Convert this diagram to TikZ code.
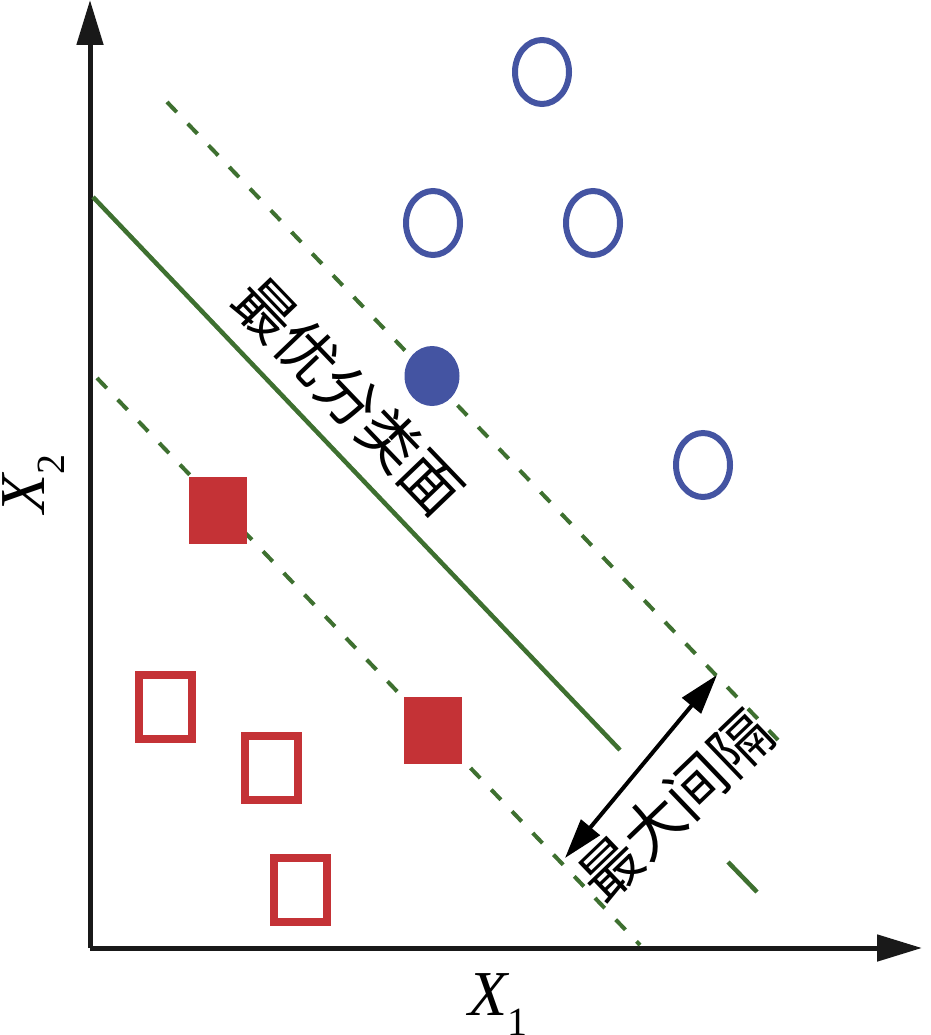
\documentclass[tikz,border=0pt]{standalone}
\usepackage{fontspec}
\setmainfont{Liberation Serif}
\newfontfamily\cjk{Noto Sans CJK SC}
\usetikzlibrary{arrows.meta,shapes.geometric}
\definecolor{svmgreen}{RGB}{62,112,48}
\definecolor{svmblue}{RGB}{68,84,162}
\definecolor{svmred}{RGB}{196,50,54}
\newcommand{\axvar}[1]{{\fontsize{64pt}{64pt}\selectfont\itshape X}{\fontsize{40pt}{40pt}\selectfont\raisebox{-20pt}{#1}}}
\tikzset{
  axisline/.style={line width=5pt, draw={rgb,255:red,25;green,25;blue,25}, -{Triangle[length=45pt,width=26pt]}},
  hyperplane/.style={line width=4.5pt, draw=svmgreen},
  marginline/.style={line width=4pt, draw=svmgreen, dash pattern=on 14pt off 16pt},
  opencirc/.style={ellipse, draw=svmblue, line width=6pt, minimum width=54pt, minimum height=64pt, inner sep=0pt},
  fillcirc/.style={ellipse, fill=svmblue, minimum width=55pt, minimum height=60pt, inner sep=0pt},
  opensq/.style={rectangle, draw=svmred, line width=8pt, minimum width=53pt, minimum height=64pt, inner sep=0pt},
  fillsq/.style={rectangle, fill=svmred, minimum width=58pt, minimum height=67pt, inner sep=0pt},
  cjklabel/.style={font=\cjk\fontsize{60pt}{64pt}\selectfont, inner sep=0pt},
  axlabel/.style={inner sep=0pt, anchor=base west},
  gaparrow/.style={line width=4pt, {Triangle[length=40pt,width=24pt]}-{Triangle[length=40pt,width=24pt]}}
}
\begin{document}
\begin{tikzpicture}[x=1pt,y=-1pt]
\useasboundingbox (0,0) rectangle (930,1035);
% axes
\coordinate (O) at (90,948);
\coordinate (ytop) at (90,0);
\coordinate (xend) at (922,948);
\draw[axisline] (O) -- (ytop);
\draw[axisline] (O) -- (xend);
\node[axlabel] (xlab) at (468,1015) {\axvar{1}};
\node[axlabel, rotate=90] (ylab) at (44,514) {\axvar{2}};
% lines
\coordinate (hA) at (93,197);
\coordinate (hB) at (620,750);
\coordinate (hC) at (728,862);
\coordinate (hD) at (757,892);
\coordinate (uA) at (167,102);
\coordinate (uB) at (778,740);
\coordinate (lA) at (97,378);
\coordinate (lB) at (640,945);
\draw[hyperplane] (hA) -- (hB);
\draw[hyperplane] (hC) -- (hD);
\draw[marginline] (uA) -- (uB);
\draw[marginline] (lA) -- (lB);
% points
\node[opencirc] (c1) at (542,72) {};
\node[opencirc] (c2) at (433,223) {};
\node[opencirc] (c3) at (593,223) {};
\node[opencirc] (c4) at (703,465) {};
\node[fillcirc] (s1) at (432,376) {};
\node[fillsq] (s2) at (218,510) {};
\node[fillsq] (s3) at (433,730) {};
\node[opensq] (q1) at (165,707) {};
\node[opensq] (q2) at (271.5,767.5) {};
\node[opensq] (q3) at (300.5,890) {};
% labels
\node[cjklabel, rotate=-46.2] (hlab) at (349,396) {最优分类面};
\coordinate (gA) at (565,858);
\coordinate (gB) at (717,675);
\draw[gaparrow] (gA) -- (gB);
\node[cjklabel, rotate=43.8] (glab) at (675,806) {最大间隔};
\end{tikzpicture}
\end{document}
